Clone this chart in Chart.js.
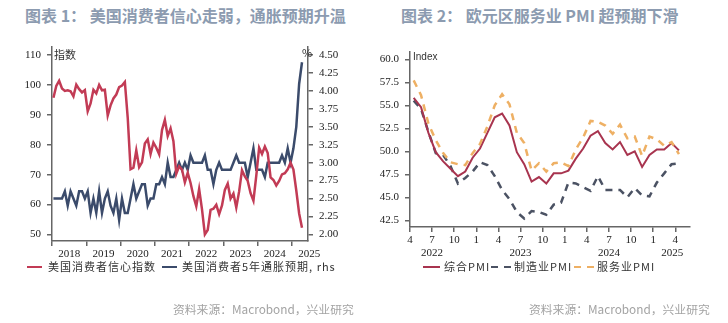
<!DOCTYPE html>
<html>
<head>
<meta charset="utf-8">
<script src="https://cdn.jsdelivr.net/npm/chart.js@4.4.1/dist/chart.umd.min.js"></script>
<style>
  body { margin: 0; width: 728px; height: 323px; background: #fff; position: relative; overflow: hidden;
         font-family: "Noto Sans CJK SC", sans-serif; }
  canvas { position: absolute; top: 0; }
  #c1 { left: 0; }
  #c2 { left: 364px; }
  .title { position: absolute; top: 3px; font-size: 16px; font-weight: bold; color: #8c9bb0; white-space: nowrap; }
  .src { position: absolute; top: 300px; font-size: 11.8px; color: #a3a3a3; white-space: nowrap; }
  .lg { position: absolute; top: 259px; font-size: 11px; line-height: 15px; letter-spacing: 1px; color: #333; white-space: nowrap; }
  .sw { position: absolute; height: 2.5px; top: 265.5px; }
  .unit { position: absolute; font-size: 11px; line-height: 15px; color: #333; white-space: nowrap; }
</style>
</head>
<body>
<div class="title" style="left:25px">图表 1：&nbsp;美国消费者信心走弱，通胀预期升温</div>
<div class="title" style="left:401px">图表 2：&nbsp;欧元区服务业 PMI 超预期下滑</div>

<canvas id="c1" width="364" height="323"></canvas>
<canvas id="c2" width="364" height="323"></canvas>

<div class="unit" style="left:54px;top:47px">指数</div>
<div class="unit" style="left:302px;top:45px">%</div>
<div class="unit" style="left:413px;top:49px;font-family:'Liberation Sans';font-size:10px">Index</div>

<!-- legend, left chart -->
<div class="sw" style="left:27px;width:15px;background:#c23b55"></div>
<div class="lg" style="left:48px">美国消费者信心指数</div>
<div class="sw" style="left:162px;width:15px;background:#3b4b6b"></div>
<div class="lg" style="left:182px">美国消费者5年通胀预期, rhs</div>

<!-- legend, right chart -->
<div class="sw" style="left:423px;width:17px;background:#a8344f"></div>
<div class="lg" style="left:444px">综合PMI</div>
<div class="sw" style="left:491px;width:7px;background:#4b5263"></div>
<div class="sw" style="left:504px;width:7px;background:#4b5263"></div>
<div class="lg" style="left:514px">制造业PMI</div>
<div class="sw" style="left:574px;width:7px;background:#eeb064"></div>
<div class="sw" style="left:587px;width:7px;background:#eeb064"></div>
<div class="lg" style="left:597px">服务业PMI</div>

<div class="src" style="left:173px">资料来源：Macrobond，兴业研究</div>
<div class="src" style="left:529px">资料来源：Macrobond，兴业研究</div>

<script>
// US consumer sentiment and 5y inflation expectations, monthly from 2018-01
const sentiment = [
  95.7, 99.7, 101.4, 98.8, 98.0, 98.2, 97.9, 96.2, 100.1, 98.6, 97.5, 98.3,
  91.2, 93.8, 98.4, 97.2, 100.0, 98.2, 98.4, 89.8, 93.2, 95.5, 96.8, 99.3,
  99.8, 101.0, 89.1, 71.8, 72.3, 78.1, 72.5, 74.1, 80.4, 81.8, 76.9, 80.7,
  79.0, 76.8, 84.9, 88.3, 82.9, 85.5, 81.2, 70.3, 72.8, 71.7, 67.4, 70.6,
  67.2, 62.8, 59.4, 65.2, 58.4, 50.0, 51.5, 58.2, 58.6, 59.9, 56.8, 59.7,
  64.9, 67.0, 62.0, 63.7, 59.0, 64.4, 71.5, 69.4, 67.9, 63.8, 61.3, 69.7,
  79.0, 76.9, 79.4, 77.2, 69.1, 68.2, 66.4, 67.9, 70.1, 70.5, 71.8, 74.0,
  71.7, 64.7, 57.0, 52.2
];
const inflation5y = [
  2.5, 2.5, 2.5, 2.5, 2.6, 2.4, 2.6, 2.5, 2.4, 2.6, 2.6, 2.5,
  2.6, 2.3, 2.5, 2.3, 2.6, 2.3, 2.5, 2.6, 2.4, 2.3, 2.5, 2.2,
  2.5, 2.3, 2.3, 2.5, 2.7, 2.5, 2.6, 2.7, 2.7, 2.4, 2.5, 2.5,
  2.7, 2.7, 2.8, 2.7, 3.0, 2.8, 2.8, 2.9, 3.0, 2.9, 3.0, 2.9,
  3.1, 3.0, 3.0, 3.0, 3.0, 3.1, 2.9, 2.9, 2.7, 2.9, 3.0, 2.9,
  2.9, 2.9, 2.9, 3.0, 3.1, 3.0, 3.0, 3.0, 2.8, 3.0, 3.2, 2.9,
  2.9, 2.9, 2.8, 3.0, 3.0, 3.0, 3.0, 3.0, 3.1, 3.0, 3.2, 3.0,
  3.2, 3.5, 4.1, 4.4
];
const years1 = ['2018', '2019', '2020', '2021', '2022', '2023', '2024', '2025'];
const leftTicks1 = [50, 60, 70, 80, 90, 100, 110];
const rightTicks1 = [2.0, 2.25, 2.5, 2.75, 3.0, 3.25, 3.5, 3.75, 4.0, 4.25, 4.5];

// Eurozone PMI, monthly from 2022-04
const pmiComposite = [
  55.8, 54.8, 52.0, 49.9, 48.9, 48.1, 47.3, 47.8, 49.3,
  50.3, 52.0, 53.7, 54.1, 52.8, 49.9, 48.6, 46.7, 47.2, 46.5, 47.6, 47.6,
  47.9, 49.2, 50.3, 51.7, 52.2, 50.9, 50.2, 51.0, 49.6, 50.0, 48.3, 49.6,
  50.2, 50.2, 50.9, 50.1
];
const pmiManufacturing = [
  55.5, 54.6, 52.1, 49.8, 49.6, 48.4, 46.5, 47.1, 47.8,
  48.8, 48.5, 47.3, 45.8, 44.8, 43.4, 42.7, 43.5, 43.4, 43.1, 44.2, 44.4,
  46.6, 46.5, 46.1, 45.7, 47.3, 45.8, 45.8, 45.8, 45.0, 46.0, 45.2, 45.1,
  46.6, 47.6, 48.6, 48.7
];
const pmiServices = [
  57.7, 56.1, 53.0, 51.2, 49.8, 48.8, 48.6, 48.5, 49.8,
  50.8, 52.7, 55.0, 56.2, 55.1, 52.0, 50.9, 47.9, 48.7, 47.8, 48.7, 48.8,
  48.4, 50.2, 51.5, 53.3, 53.2, 52.8, 51.9, 52.9, 51.4, 51.6, 49.5, 51.6,
  51.3, 50.6, 51.0, 49.7
];
const years2 = ['2022', '2023', '2024', '2025'];
const yearPos2 = [3, 15, 27, 35.6];
const yTicks2 = [42.5, 45.0, 47.5, 50.0, 52.5, 55.0, 57.5, 60.0];

const monthLabels = (y0, m0, n) => Array.from({ length: n }, (_, i) => {
  const m = m0 - 1 + i;
  return (y0 + Math.floor(m / 12)) + '-' + String(m % 12 + 1).padStart(2, '0');
});
const months1 = monthLabels(2018, 1, sentiment.length);
const months2 = monthLabels(2022, 4, pmiComposite.length);

// monthly points sit mid-month on a linear month axis
const toPoints = vals => vals.map((v, i) => ({ x: i + 0.5, y: v }));

const tickFont = { family: 'Liberation Serif', size: 11 };
const axisGrid = { drawOnChartArea: false, color: '#666', lineWidth: 1.5, tickLength: 5 };
const axisBorder = { color: '#666', width: 1.5 };

const yearLabels = {
  id: 'yearLabels',
  afterDraw(chart, args, opts) {
    const ctx = chart.ctx, xs = chart.scales.x;
    ctx.save();
    ctx.font = '11px "Liberation Serif"';
    ctx.fillStyle = '#222';
    ctx.textAlign = 'center';
    ctx.textBaseline = 'middle';
    opts.labels.forEach((t, i) => ctx.fillText(t, xs.getPixelForValue(opts.positions[i]), opts.y));
    ctx.restore();
  }
};

const setTicks = list => scale => { scale.ticks = list.map(v => ({ value: v })); };
const fixWidth = w => scale => { scale.width = w; };
const fixHeight = h => scale => { scale.height = h; };

new Chart(document.getElementById('c1'), {
  type: 'line',
  data: {
    labels: months1,
    datasets: [
      { label: '美国消费者信心指数', data: toPoints(sentiment), yAxisID: 'y',
        borderColor: '#c23b55', borderWidth: 2.5, pointRadius: 0, tension: 0 },
      { label: '美国消费者5年通胀预期, rhs', data: toPoints(inflation5y), yAxisID: 'y1',
        borderColor: '#3b4b6b', borderWidth: 2.5, pointRadius: 0, tension: 0 }
    ]
  },
  options: {
    responsive: false, animation: false, devicePixelRatio: 1,
    layout: { padding: { top: 47, left: 0, right: 0, bottom: 0 } },
    plugins: {
      legend: { display: false }, tooltip: { enabled: false },
      yearLabels: { labels: years1, positions: years1.map((_, i) => i * 12 + 6), y: 254 }
    },
    scales: {
      x: { type: 'linear', min: 0, max: 89.6, grid: axisGrid, border: axisBorder,
           afterBuildTicks: setTicks([0, 12, 24, 36, 48, 60, 72, 84]),
           ticks: { autoSkip: false, callback: () => '' },
           afterFit: fixHeight(82) },
      y: { position: 'left', min: 47.8, max: 112.7, grid: axisGrid, border: axisBorder,
           afterBuildTicks: setTicks(leftTicks1),
           ticks: { font: tickFont, color: '#222', padding: 6 },
           afterFit: fixWidth(52) },
      y1: { position: 'right', min: 1.908, max: 4.6125, grid: axisGrid, border: axisBorder,
            afterBuildTicks: setTicks(rightTicks1),
            ticks: { font: tickFont, color: '#222', padding: 6, callback: v => v.toFixed(2) },
            afterFit: fixWidth(56) }
    }
  },
  plugins: [yearLabels]
});

new Chart(document.getElementById('c2'), {
  type: 'line',
  data: {
    labels: months2,
    datasets: [
      { label: '服务业PMI', data: toPoints(pmiServices), borderColor: '#eeb064',
        borderWidth: 2.5, borderDash: [7, 6], pointRadius: 0, tension: 0 },
      { label: '综合PMI', data: toPoints(pmiComposite), borderColor: '#a8344f',
        borderWidth: 2, pointRadius: 0, tension: 0 },
      { label: '制造业PMI', data: toPoints(pmiManufacturing), borderColor: '#4b5263',
        borderWidth: 2.5, borderDash: [7, 6], pointRadius: 0, tension: 0 }
    ]
  },
  options: {
    responsive: false, animation: false, devicePixelRatio: 1,
    layout: { padding: { top: 52, left: 0, right: 38, bottom: 0 } },
    plugins: {
      legend: { display: false }, tooltip: { enabled: false },
      yearLabels: { labels: years2, positions: yearPos2, y: 253 }
    },
    scales: {
      x: { type: 'linear', min: 0, max: 38, grid: axisGrid, border: axisBorder,
           afterBuildTicks: setTicks([0, 3, 6, 9, 12, 15, 18, 21, 24, 27, 30, 33, 36]),
           ticks: { autoSkip: false, maxRotation: 0, font: tickFont, color: '#222', padding: 2,
                    callback: v => (v + 3) % 12 + 1 },
           afterFit: fixHeight(96) },
      y: { min: 41.77, max: 60.79, grid: axisGrid, border: axisBorder,
           afterBuildTicks: setTicks(yTicks2),
           ticks: { font: tickFont, color: '#222', padding: 6, callback: v => v.toFixed(1) },
           afterFit: fixWidth(46) }
    }
  },
  plugins: [yearLabels]
});
</script>
</body>
</html>
